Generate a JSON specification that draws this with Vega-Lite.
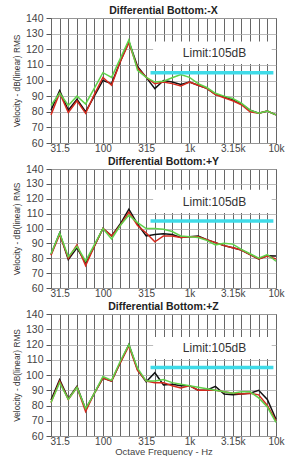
{
  "$schema": "https://vega.github.io/schema/vega-lite/v6.json",
  "padding": {"left": 11, "top": 5, "right": 9, "bottom": 0},
  "spacing": 2,
  "background": "white",
  "config": {
    "view": {"stroke": "#444444", "strokeWidth": 1},
    "font": "Liberation Sans",
    "title": {"font": "Liberation Sans", "fontSize": 10.5, "fontWeight": "bold", "color": "#222222", "offset": -3, "anchor": "middle"},
    "axis": {"labelFont": "Liberation Sans", "labelFontSize": 10, "labelColor": "#444444", "domain": false},
    "axisX": {"grid": true, "gridColor": "#666666", "gridWidth": 1, "ticks": false, "labelPadding": 0, "labelOverlap": false, "labelFlush": false},
    "axisY": {"grid": true, "gridColor": "#aaaaaa", "gridWidth": 0.8, "tickSize": 5, "tickColor": "#555555", "labelPadding": 3, "labelFontSize": 10.5, "titleFont": "Liberation Sans", "titleFontSize": 8.3, "titleFontWeight": "normal", "titleColor": "#333333", "titlePadding": 4}
  },
  "datasets": {
    "X": [
      {"b":0,"k":81,"r":78,"g":84},{"b":1,"k":93.5,"r":92,"g":92},{"b":2,"k":81,"r":79.5,"g":84},{"b":3,"k":88,"r":87,"g":90},
      {"b":4,"k":80,"r":79,"g":85},{"b":5,"k":90,"r":91,"g":95},{"b":6,"k":100,"r":102,"g":105},{"b":7,"k":98,"r":97,"g":102},
      {"b":8,"k":112,"r":112,"g":114},{"b":9,"k":125,"r":124,"g":126},{"b":10,"k":109,"r":108,"g":106.5},{"b":11,"k":102,"r":102,"g":102},
      {"b":12,"k":94.8,"r":98,"g":99},{"b":13,"k":100,"r":99,"g":99.5},{"b":14,"k":99,"r":98,"g":101.8},{"b":15,"k":97.5,"r":96.5,"g":103.8},
      {"b":16,"k":99,"r":99,"g":102},{"b":17,"k":97,"r":97,"g":98},{"b":18,"k":95,"r":95,"g":95.5},{"b":19,"k":91.2,"r":91,"g":91.8},
      {"b":20,"k":89.5,"r":89,"g":90},{"b":21,"k":87.5,"r":87,"g":88.5},{"b":22,"k":85,"r":84.5,"g":85.5},{"b":23,"k":81,"r":80,"g":81},
      {"b":24,"k":79,"r":79,"g":79},{"b":25,"k":80.5,"r":80.5,"g":80.5},{"b":26,"k":78,"r":78,"g":78}
    ],
    "Y": [
      {"b":0,"k":82.5,"r":82,"g":83},{"b":1,"k":97,"r":96,"g":97},{"b":2,"k":79,"r":80,"g":81},{"b":3,"k":87,"r":89,"g":88},
      {"b":4,"k":77,"r":75,"g":78},{"b":5,"k":88,"r":88,"g":89},{"b":6,"k":100,"r":100,"g":100},{"b":7,"k":95,"r":95,"g":93},
      {"b":8,"k":103,"r":102,"g":102},{"b":9,"k":113,"r":111,"g":109},{"b":10,"k":103,"r":102,"g":104},{"b":11,"k":95,"r":97,"g":100},
      {"b":12,"k":96,"r":91,"g":100},{"b":13,"k":96.5,"r":95,"g":99.5},{"b":14,"k":96,"r":95,"g":98},{"b":15,"k":94,"r":94,"g":95},
      {"b":16,"k":94.5,"r":94.5,"g":94.5},{"b":17,"k":95,"r":94.5,"g":94},{"b":18,"k":92.5,"r":92.5,"g":92},{"b":19,"k":90.5,"r":90.5,"g":89},
      {"b":20,"k":88.5,"r":88.5,"g":90},{"b":21,"k":87,"r":87,"g":89.5},{"b":22,"k":85.5,"r":85.5,"g":86},{"b":23,"k":82.5,"r":82.5,"g":83},
      {"b":24,"k":79.5,"r":79.5,"g":80},{"b":25,"k":81.7,"r":81.5,"g":82.5},{"b":26,"k":81.5,"r":79.5,"g":78}
    ],
    "Z": [
      {"b":0,"k":83.5,"r":82,"g":82},{"b":1,"k":97,"r":96,"g":95},{"b":2,"k":84.5,"r":84,"g":84},{"b":3,"k":92.5,"r":92,"g":92},
      {"b":4,"k":77.5,"r":76,"g":78},{"b":5,"k":88,"r":88,"g":88},{"b":6,"k":98,"r":98,"g":99},{"b":7,"k":96,"r":96,"g":96.5},
      {"b":8,"k":108,"r":108,"g":109},{"b":9,"k":120,"r":119,"g":120},{"b":10,"k":103.5,"r":103,"g":104.5},{"b":11,"k":95.5,"r":96,"g":96},
      {"b":12,"k":101.5,"r":95,"g":96},{"b":13,"k":93.5,"r":95,"g":97},{"b":14,"k":94,"r":93,"g":95},{"b":15,"k":93,"r":91.5,"g":94},
      {"b":16,"k":93,"r":93,"g":93},{"b":17,"k":90,"r":90,"g":92},{"b":18,"k":90,"r":90,"g":91},{"b":19,"k":92.5,"r":90,"g":90},
      {"b":20,"k":87.5,"r":89,"g":89},{"b":21,"k":87,"r":88,"g":88},{"b":22,"k":87.5,"r":87.5,"g":89},{"b":23,"k":88,"r":88,"g":89},
      {"b":24,"k":90,"r":87,"g":85},{"b":25,"k":84,"r":80,"g":79},{"b":26,"k":71,"r":70,"g":69}
    ]
  },
  "vconcat": [
    {
      "width": 225, "height": 125,
      "title": "Differential Bottom:-X",
      "layer": [
        {"data": {"name": "X"}, "transform": [{"fold": ["k","r","g"], "as": ["s","v"]}],
         "mark": {"type": "line", "strokeWidth": 1.5},
         "encoding": {
           "x": {"field": "b", "type": "quantitative", "scale": {"domain": [0,26], "nice": false, "zero": false}, "axis": {"title": null, "tickCount": 40, "values": [0,1,2,3,4,5,6,7,8,9,10,11,12,13,14,15,16,17,18,19,20,21,22,23,24,25,26], "labelExpr": "datum.value==1?'31.5':datum.value==6?'100':datum.value==11?'315':datum.value==16?'1k':datum.value==21?'3.15k':datum.value==26?'10k':''"}},
           "y": {"field": "v", "type": "quantitative", "scale": {"domain": [60,140], "nice": false, "zero": false}, "axis": {"title": "Velocity - dB(linear) RMS", "tickCount": 12, "values": [60,70,80,90,100,110,120,130,140]}},
           "color": {"field": "s", "type": "nominal", "scale": {"domain": ["k","r","g"], "range": ["#111111","#d42a1e","#5fd24a"]}, "legend": null}
         }},
        {"data": {"values": [{}]}, "mark": {"type": "rect", "color": "white"},
         "encoding": {"x": {"datum": 11.8, "type": "quantitative"}, "x2": {"datum": 25.5}, "y": {"datum": 110.5, "type": "quantitative"}, "y2": {"datum": 125}}},
        {"data": {"values": [{}]}, "mark": {"type": "rule", "color": "#3fdbe8", "strokeWidth": 3.5},
         "encoding": {"x": {"datum": 11.5, "type": "quantitative"}, "x2": {"datum": 25.7}, "y": {"datum": 105, "type": "quantitative"}}},
        {"data": {"values": [{}]}, "mark": {"type": "text", "text": "Limit:105dB", "fontSize": 12, "color": "#333333", "font": "Liberation Sans"},
         "encoding": {"x": {"datum": 18.9, "type": "quantitative"}, "y": {"datum": 117.5, "type": "quantitative"}}}
      ]
    },
    {
      "width": 225, "height": 119,
      "title": "Differential Bottom:+Y",
      "layer": [
        {"data": {"name": "Y"}, "transform": [{"fold": ["k","r","g"], "as": ["s","v"]}],
         "mark": {"type": "line", "strokeWidth": 1.5},
         "encoding": {
           "x": {"field": "b", "type": "quantitative", "scale": {"domain": [0,26], "nice": false, "zero": false}, "axis": {"title": null, "tickCount": 40, "values": [0,1,2,3,4,5,6,7,8,9,10,11,12,13,14,15,16,17,18,19,20,21,22,23,24,25,26], "labelExpr": "datum.value==1?'31.5':datum.value==6?'100':datum.value==11?'315':datum.value==16?'1k':datum.value==21?'3.15k':datum.value==26?'10k':''"}},
           "y": {"field": "v", "type": "quantitative", "scale": {"domain": [60,140], "nice": false, "zero": false}, "axis": {"title": "Velocity - dB(linear) RMS", "tickCount": 12, "values": [60,70,80,90,100,110,120,130,140]}},
           "color": {"field": "s", "type": "nominal", "scale": {"domain": ["k","r","g"], "range": ["#111111","#d42a1e","#5fd24a"]}, "legend": null}
         }},
        {"data": {"values": [{}]}, "mark": {"type": "rect", "color": "white"},
         "encoding": {"x": {"datum": 11.8, "type": "quantitative"}, "x2": {"datum": 25.5}, "y": {"datum": 110.5, "type": "quantitative"}, "y2": {"datum": 126}}},
        {"data": {"values": [{}]}, "mark": {"type": "rule", "color": "#3fdbe8", "strokeWidth": 3.5},
         "encoding": {"x": {"datum": 11.5, "type": "quantitative"}, "x2": {"datum": 25.7}, "y": {"datum": 105, "type": "quantitative"}}},
        {"data": {"values": [{}]}, "mark": {"type": "text", "text": "Limit:105dB", "fontSize": 12, "color": "#333333", "font": "Liberation Sans"},
         "encoding": {"x": {"datum": 18.9, "type": "quantitative"}, "y": {"datum": 118, "type": "quantitative"}}}
      ]
    },
    {
      "width": 225, "height": 122,
      "title": "Differential Bottom:+Z",
      "layer": [
        {"data": {"name": "Z"}, "transform": [{"fold": ["k","r","g"], "as": ["s","v"]}],
         "mark": {"type": "line", "strokeWidth": 1.5},
         "encoding": {
           "x": {"field": "b", "type": "quantitative", "scale": {"domain": [0,26], "nice": false, "zero": false}, "axis": {"title": "Octave Frequency - Hz", "titleFontSize": 9.5, "titleFontWeight": "normal", "titleColor": "#444444", "titlePadding": 0, "tickCount": 40, "values": [0,1,2,3,4,5,6,7,8,9,10,11,12,13,14,15,16,17,18,19,20,21,22,23,24,25,26], "labelExpr": "datum.value==1?'31.5':datum.value==6?'100':datum.value==11?'315':datum.value==16?'1k':datum.value==21?'3.15k':datum.value==26?'10k':''"}},
           "y": {"field": "v", "type": "quantitative", "scale": {"domain": [60,140], "nice": false, "zero": false}, "axis": {"title": "Velocity - dB(linear) RMS", "tickCount": 12, "values": [60,70,80,90,100,110,120,130,140]}},
           "color": {"field": "s", "type": "nominal", "scale": {"domain": ["k","r","g"], "range": ["#111111","#d42a1e","#5fd24a"]}, "legend": null}
         }},
        {"data": {"values": [{}]}, "mark": {"type": "rect", "color": "white"},
         "encoding": {"x": {"datum": 11.8, "type": "quantitative"}, "x2": {"datum": 25.5}, "y": {"datum": 110.5, "type": "quantitative"}, "y2": {"datum": 125}}},
        {"data": {"values": [{}]}, "mark": {"type": "rule", "color": "#3fdbe8", "strokeWidth": 3.5},
         "encoding": {"x": {"datum": 11.5, "type": "quantitative"}, "x2": {"datum": 25.7}, "y": {"datum": 105, "type": "quantitative"}}},
        {"data": {"values": [{}]}, "mark": {"type": "text", "text": "Limit:105dB", "fontSize": 12, "color": "#333333", "font": "Liberation Sans"},
         "encoding": {"x": {"datum": 18.9, "type": "quantitative"}, "y": {"datum": 118, "type": "quantitative"}}}
      ]
    }
  ]
}
